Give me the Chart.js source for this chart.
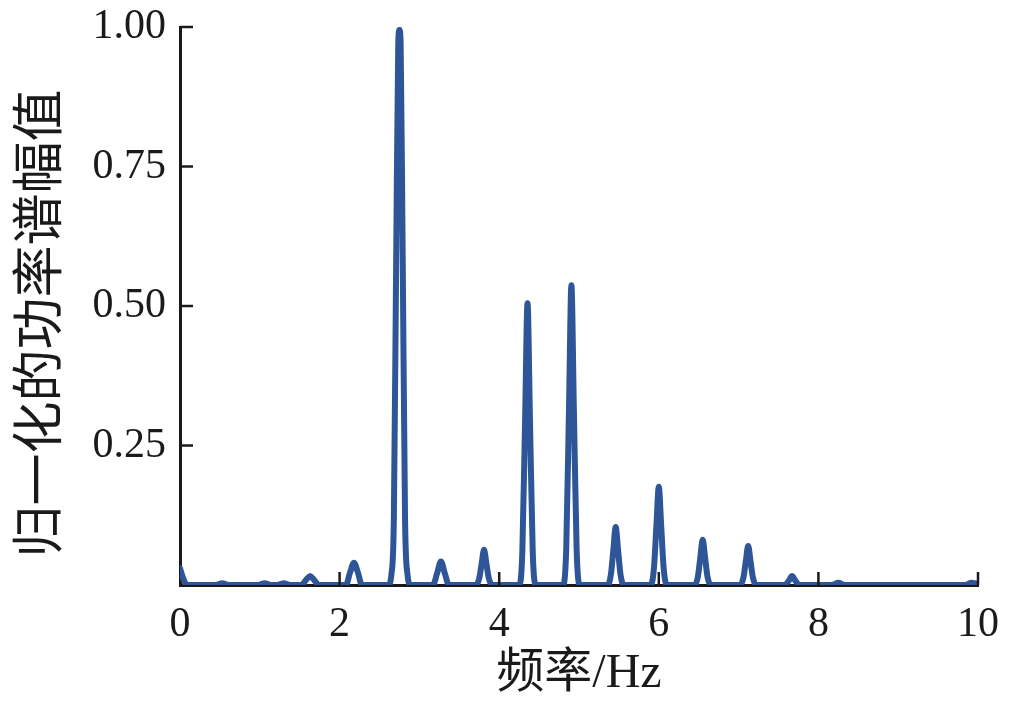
<!DOCTYPE html>
<html>
<head>
<meta charset="utf-8">
<script src="https://cdn.jsdelivr.net/npm/chart.js@4.4.1/dist/chart.umd.min.js"></script>
<style>
  html, body { margin: 0; padding: 0; background: #ffffff; }
  #wrap { width: 1011px; height: 711px; }
</style>
</head>
<body>
<div id="wrap"><canvas id="c" width="1011" height="711"></canvas></div>
<script>
// Frequency (Hz) sample positions
const freqs = [
  0.00, 0.04, 0.09,
  0.45, 0.53, 0.61,
  0.98, 1.06, 1.14, 1.22, 1.30, 1.38,
  1.52, 1.58, 1.63, 1.68, 1.74,
  2.08, 2.13, 2.18, 2.23, 2.28,
  2.61, 2.65, 2.68, 2.71, 2.735, 2.75, 2.765, 2.79, 2.82, 2.85, 2.89,
  3.17, 3.22, 3.27, 3.32, 3.37,
  3.71, 3.75, 3.78, 3.81, 3.84, 3.87, 3.91,
  4.25, 4.29, 4.325, 4.355, 4.385, 4.42, 4.46,
  4.80, 4.84, 4.875, 4.905, 4.935, 4.97, 5.01,
  5.36, 5.40, 5.43, 5.46, 5.49, 5.52, 5.56,
  5.90, 5.94, 5.97, 6.00, 6.03, 6.06, 6.10,
  6.45, 6.49, 6.52, 6.55, 6.58, 6.61, 6.65,
  7.02, 7.06, 7.09, 7.12, 7.15, 7.18, 7.22,
  7.58, 7.63, 7.67, 7.71, 7.76,
  8.17, 8.25, 8.33,
  9.84, 9.92, 10.00
];
// Normalised power spectrum values
const power = [
  0.030, 0.012, 0.000,
  0.000, 0.003, 0.000,
  0.000, 0.003, 0.000, 0.000, 0.003, 0.000,
  0.000, 0.009, 0.016, 0.009, 0.000,
  0.000, 0.022, 0.040, 0.022, 0.000,
  0.000, 0.020, 0.120, 0.600, 0.970, 0.995, 0.970, 0.600, 0.120, 0.020, 0.000,
  0.000, 0.020, 0.042, 0.020, 0.000,
  0.000, 0.012, 0.038, 0.063, 0.038, 0.012, 0.000,
  0.000, 0.060, 0.300, 0.505, 0.300, 0.060, 0.000,
  0.000, 0.065, 0.320, 0.537, 0.320, 0.065, 0.000,
  0.000, 0.019, 0.062, 0.104, 0.062, 0.019, 0.000,
  0.000, 0.032, 0.106, 0.176, 0.106, 0.032, 0.000,
  0.000, 0.015, 0.049, 0.081, 0.049, 0.015, 0.000,
  0.000, 0.013, 0.042, 0.070, 0.042, 0.013, 0.000,
  0.000, 0.008, 0.016, 0.008, 0.000,
  0.000, 0.004, 0.000,
  0.000, 0.004, 0.002
];
const xTickValues = [0, 2, 4, 6, 8, 10];
const yTickValues = [0.25, 0.50, 0.75, 1.00];
const xTitle = '频率/Hz';
const yTitle = '归一化的功率谱幅值   ';

const ink = '#1a1a1a';
const serif = "'Liberation Serif', 'Noto Sans CJK SC', serif";

const innerTicks = {
  id: 'innerTicks',
  afterDraw(chart) {
    const { ctx, chartArea, scales } = chart;
    ctx.save();
    ctx.strokeStyle = ink;
    ctx.lineWidth = 2.5;
    xTickValues.forEach(v => {
      if (v === 0) return;
      const px = scales.x.getPixelForValue(v);
      ctx.beginPath();
      ctx.moveTo(px, chartArea.bottom);
      ctx.lineTo(px, chartArea.bottom - 13);
      ctx.stroke();
    });
    yTickValues.forEach(v => {
      const py = scales.y.getPixelForValue(v);
      ctx.beginPath();
      ctx.moveTo(chartArea.left, py);
      ctx.lineTo(chartArea.left + 13, py);
      ctx.stroke();
    });
    ctx.restore();
  }
};

new Chart(document.getElementById('c'), {
  type: 'line',
  data: {
    datasets: [{
      data: freqs.map((f, i) => ({ x: f, y: power[i] })),
      borderColor: '#2E5597',
      borderWidth: 6,
      pointRadius: 0,
      fill: false,
      cubicInterpolationMode: 'monotone',
      borderJoinStyle: 'round',
      borderCapStyle: 'round'
    }]
  },
  options: {
    responsive: false,
    animation: false,
    devicePixelRatio: 1,
    layout: { padding: { top: 27, right: 33, bottom: 0, left: 0 } },
    plugins: { legend: { display: false }, tooltip: { enabled: false } },
    scales: {
      x: {
        type: 'linear',
        min: 0, max: 10,
        afterFit(s) { s.height = 126; s.paddingLeft = 0; s.paddingRight = 0; },
        afterBuildTicks(s) { s.ticks = xTickValues.map(v => ({ value: v })); },
        grid: { display: true, drawOnChartArea: false, drawTicks: false },
        border: { display: true, color: ink, width: 3 },
        ticks: {
          padding: 15,
          color: ink,
          font: { family: serif, size: 42 },
          maxRotation: 0,
          callback: v => String(v)
        },
        title: {
          display: true,
          text: xTitle,
          color: ink,
          font: { family: serif, size: 48, lineHeight: 1 },
          padding: { top: 0, bottom: 13 }
        }
      },
      y: {
        min: 0, max: 1,
        afterFit(s) { s.width = 180; s.paddingTop = 0; s.paddingBottom = 0; },
        afterBuildTicks(s) { s.ticks = [0].concat(yTickValues).map(v => ({ value: v })); },
        grid: { display: true, drawOnChartArea: false, drawTicks: false },
        border: { display: true, color: ink, width: 3 },
        ticks: {
          padding: 14,
          color: ink,
          font: { family: serif, size: 42 },
          callback: v => (v === 0 ? '' : v.toFixed(2))
        },
        title: {
          display: true,
          text: yTitle,
          color: ink,
          font: { family: "'Noto Sans CJK SC', sans-serif", size: 52, lineHeight: 1 },
          padding: { top: 11, bottom: 0 }
        }
      }
    }
  },
  plugins: [innerTicks]
});
</script>
</body>
</html>
